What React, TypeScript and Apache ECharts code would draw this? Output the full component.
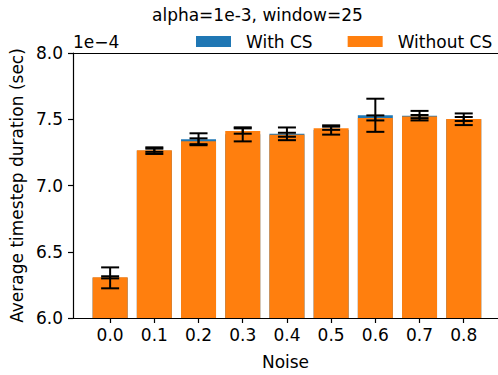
import React, { useEffect, useRef } from "react";
import * as echarts from "echarts";

const noiseLabels = ["0.0", "0.1", "0.2", "0.3", "0.4", "0.5", "0.6", "0.7", "0.8"];
const noisePos = [0, 1, 2, 3, 4, 5, 6, 7, 8];
// values in units of 1e-4 sec
const withCS = [6.303, 7.263, 7.349, 7.386, 7.39, 7.419, 7.53, 7.527, 7.5];
const withoutCS = [6.307, 7.266, 7.334, 7.411, 7.383, 7.432, 7.51, 7.52, 7.502];
const withCSErr = [0.079, 0.025, 0.045, 0.053, 0.048, 0.035, 0.125, 0.036, 0.044];
const withoutCSErr = [0.008, 0.012, 0.022, 0.02, 0.015, 0.012, 0.019, 0.012, 0.015];

const FONT = "DejaVu Sans";
const FS = 17;

export default function App() {
  const ref = useRef<HTMLDivElement>(null);
  useEffect(() => {
    document.body.style.margin = "0";
    const chart = echarts.init(ref.current!, null, { renderer: "svg" });
    const errData = (vals: number[], errs: number[]) =>
      vals.map((v, i) => [noisePos[i], v - errs[i], v + errs[i]]);
    const errSeries = (name: string, vals: number[], errs: number[]) => ({
      type: "custom",
      name: name + " err",
      z: 5,
      silent: true,
      data: errData(vals, errs),
      encode: { x: 0, y: [1, 2] },
      renderItem: (params: any, api: any) => {
        const x = api.value(0);
        const lo = api.coord([x, api.value(1)]);
        const hi = api.coord([x, api.value(2)]);
        const cap = 9;
        const st = { stroke: "#000", lineWidth: 2 };
        return {
          type: "group",
          children: [
            { type: "line", shape: { x1: lo[0], y1: lo[1], x2: hi[0], y2: hi[1] }, style: st },
            { type: "line", shape: { x1: lo[0] - cap, y1: lo[1], x2: lo[0] + cap, y2: lo[1] }, style: st },
            { type: "line", shape: { x1: hi[0] - cap, y1: hi[1], x2: hi[0] + cap, y2: hi[1] }, style: st },
          ],
        };
      },
    });
    chart.setOption({
      animation: false,
      textStyle: { fontFamily: FONT },
      title: {
        text: "alpha=1e-3, window=25",
        left: 147,
        top: 1,
        textStyle: { fontFamily: FONT, fontSize: FS, fontWeight: "normal", color: "#000" },
      },
      legend: {
        data: ["With CS", "Without CS"],
        left: 196,
        top: 33,
        width: 302,
        padding: 0,
        icon: "rect",
        itemWidth: 35,
        itemHeight: 11,
        itemGap: 35,
        textStyle: { fontFamily: FONT, fontSize: FS, color: "#000", padding: [0, 0, 0, 10] },
      },
      graphic: [
        {
          type: "text",
          left: 73,
          top: 33,
          style: { text: "1e\u22124", font: `${FS}px ${FONT}`, fill: "#000" },
        },
      ],
      grid: { left: 73, right: 0, top: 53, bottom: 57 },
      xAxis: [
        {
          type: "value",
          min: -0.84,
          max: 8.775,
          name: "Noise",
          nameLocation: "middle",
          nameGap: 35,
          nameTextStyle: { fontFamily: FONT, fontSize: FS, color: "#000" },
          axisLine: { show: true, onZero: false, lineStyle: { color: "#000", width: 1.2 } },
          axisTick: { show: true, length: 5, customValues: noisePos, lineStyle: { color: "#000", width: 1.2 } },
          axisLabel: {
            customValues: noisePos,
            formatter: (v: number) => noiseLabels[Math.round(v)] ?? "",
            fontFamily: FONT,
            fontSize: FS,
            color: "#000",
            margin: 8,
          },
          splitLine: { show: false },
        },
        {
          type: "value",
          position: "top",
          min: -0.84,
          max: 8.775,
          axisLine: { show: true, onZero: false, lineStyle: { color: "#000", width: 1.2 } },
          axisTick: { show: false },
          axisLabel: { show: false },
          splitLine: { show: false },
        },
      ],
      yAxis: {
        type: "value",
        min: 6,
        max: 8,
        interval: 0.5,
        startValue: 6,
        name: "Average timestep duration (sec)",
        nameLocation: "middle",
        nameGap: 40,
        nameTextStyle: { fontFamily: FONT, fontSize: FS, color: "#000" },
        axisLine: { show: true, onZero: false, lineStyle: { color: "#000", width: 1.2 } },
        axisTick: { show: true, length: 5, lineStyle: { color: "#000", width: 1.2 } },
        axisLabel: {
          formatter: (v: number) => v.toFixed(1),
          fontFamily: FONT,
          fontSize: FS,
          color: "#000",
          margin: 10,
        },
        splitLine: { show: false },
      },
      series: [
        {
          type: "bar",
          name: "With CS",
          data: withCS.map((v, i) => [noisePos[i], v]),
          barWidth: 35,
          barGap: "-100%",
          clip: true,
          itemStyle: { color: "#1f77b4" },
        },
        {
          type: "bar",
          name: "Without CS",
          data: withoutCS.map((v, i) => [noisePos[i], v]),
          barWidth: 35,
          barGap: "-100%",
          clip: true,
          itemStyle: { color: "#ff7f0e" },
        },
        errSeries("With CS", withCS, withCSErr),
        errSeries("Without CS", withoutCS, withoutCSErr),
      ],
    });
    return () => chart.dispose();
  }, []);
  return (
    <div
      ref={ref}
      style={{ width: 498, height: 375, position: "absolute", left: 0, top: 0 }}
    />
  );
}
